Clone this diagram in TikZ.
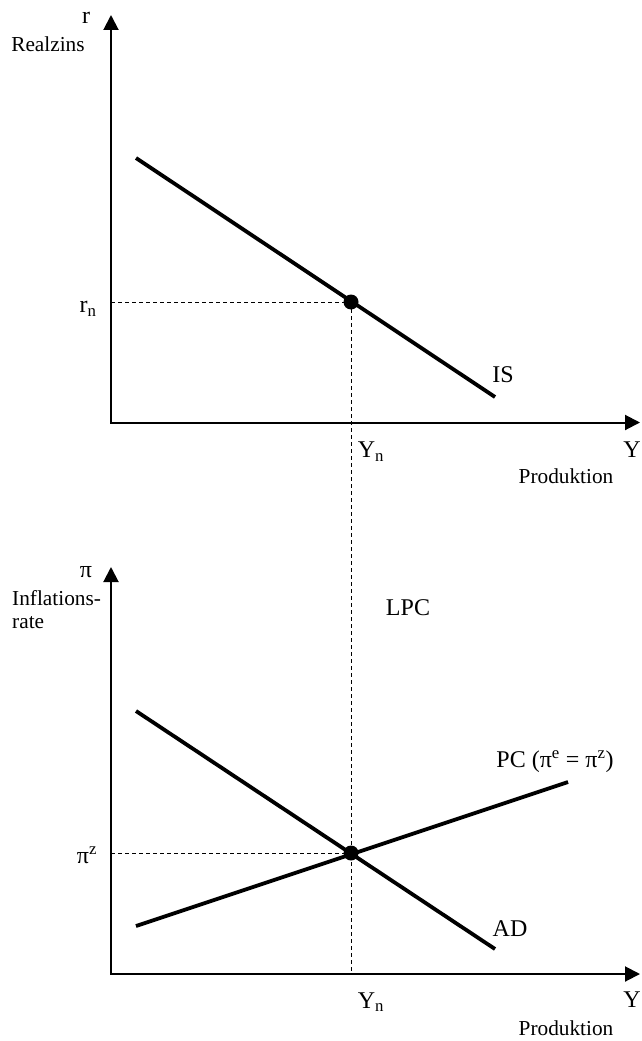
\documentclass[tikz,border=0pt]{standalone}
\usepackage{fontspec}
\setmainfont{Liberation Serif}
\usetikzlibrary{arrows.meta}
\begin{document}
\begin{tikzpicture}[x=1pt,y=-1pt,
  axis/.style={line width=2pt, {Triangle[length=15pt,width=15pt]}-{Triangle[length=15pt,width=15pt]}},
  curve/.style={line width=3.8pt},
  guide/.style={line width=1pt, dash pattern=on 4pt off 3pt},
  big/.style={inner sep=0pt, font=\fontsize{24}{28}\selectfont},
  small/.style={inner sep=0pt, font=\fontsize{21.3}{25}\selectfont},
  eqdot/.style={circle, fill=black, inner sep=0pt, minimum size=15pt}]
\useasboundingbox (0,0) rectangle (642,1041);
% coordinates
\coordinate (yt1) at (111,15);
\coordinate (o1) at (111,422.5);
\coordinate (xt1) at (640,422.5);
\coordinate (yt2) at (111,567);
\coordinate (o2) at (111,974);
\coordinate (xt2) at (640,974);
\coordinate (isA) at (136,158);
\coordinate (isB) at (495,397);
\coordinate (adA) at (136,711);
\coordinate (adB) at (495,949);
\coordinate (pcA) at (136,926);
\coordinate (pcB) at (568,782);
\coordinate (rnL) at (111,302);
\coordinate (pzL) at (111,853);
\coordinate (ynB) at (351,974);
% guides
\draw[guide] (rnL) -- (351,302);
\draw[guide] (pzL) -- (351,853);
\draw[guide] (351,302) -- (ynB);
% axes
\draw[axis] (yt1) -- (o1) -- (xt1);
\draw[axis] (yt2) -- (o2) -- (xt2);
% curves
\draw[curve] (isA) -- (isB);
\draw[curve] (adA) -- (adB);
\draw[curve] (pcA) -- (pcB);
% equilibrium dots
\node[eqdot] (e1) at (351,302) {};
\node[eqdot] (e2) at (351,853) {};
% labels
\node[big] (rlab) at (86,18) {r};
\node[small] (realzins) at (48,44) {Realzins};
\node[big] (rn) at (88,309) {r\textsubscript{n}};
\node[big] (islab) at (503,375) {IS};
\node[big] (yn1) at (371,452) {Y\textsubscript{n}};
\node[big] (y1) at (632,450) {Y};
\node[small] (prod1) at (566,476) {Produktion};
\node[big] (pilab) at (86,572) {π};
\node[small, anchor=base west] (infl) at (12,605) {Inflations-};
\node[small, anchor=base west] (rate) at (12,628) {rate};
\node[big] (lpc) at (408,608) {LPC};
\node[big] (pclab) at (555,762) {PC (π\textsuperscript{e} = π\textsuperscript{z})};
\node[big] (pizlab) at (87,855) {π\textsuperscript{z}};
\node[big] (adlab) at (510,929) {AD};
\node[big] (yn2) at (371,1002) {Y\textsubscript{n}};
\node[big] (y2) at (632,1000) {Y};
\node[small] (prod2) at (566,1028) {Produktion};
\end{tikzpicture}
\end{document}
